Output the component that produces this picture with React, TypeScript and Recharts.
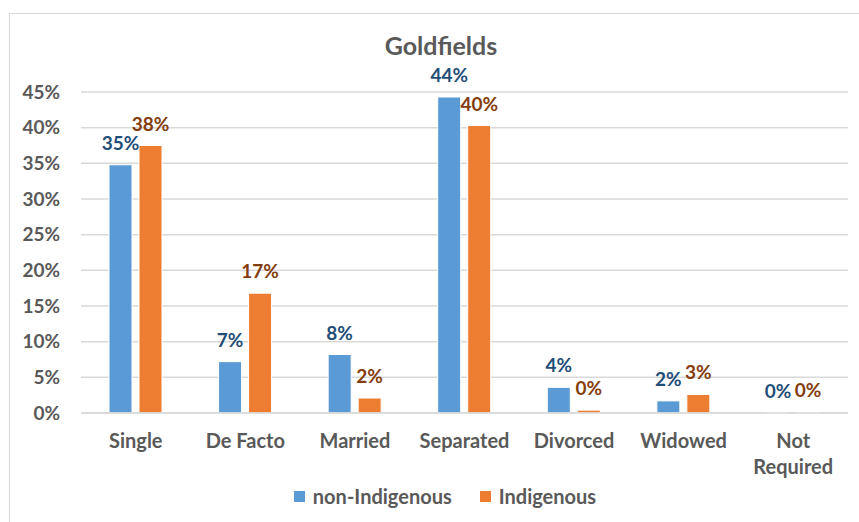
import React from "react";
import { Bar, BarChart, CartesianGrid, LabelList, Legend, XAxis, YAxis } from "recharts";

const categories = ["Single", "De Facto", "Married", "Separated", "Divorced", "Widowed", "Not Required"];
const nonIndigenous = [34.8, 7.2, 8.2, 44.3, 3.6, 1.7, 0.02];
const indigenous = [37.5, 16.8, 2.1, 40.3, 0.4, 2.6, 0.1];
const yTicks = [0, 5, 10, 15, 20, 25, 30, 35, 40, 45];

const series = [
  { key: "nonIndigenous", name: "non-Indigenous", color: "#5b9bd5", labelColor: "#1f4e79" },
  { key: "indigenous", name: "Indigenous", color: "#ed7d31", labelColor: "#843c0c" },
];

const data = categories.map((name, i) => ({
  name,
  nonIndigenous: nonIndigenous[i],
  indigenous: indigenous[i],
}));

const FONT = "Lato, 'Open Sans', sans-serif";
const GREY = "#595959";

function CategoryTick({ x, y, payload }: { x?: number; y?: number; payload?: { value: string } }) {
  const label = payload?.value ?? "";
  const lines = label.length > 10 ? label.split(" ") : [label];
  return (
    <text x={x} y={y} textAnchor="middle" fill={GREY} fontFamily={FONT} fontWeight="bold" fontSize={20}>
      {lines.map((line, i) => (
        <tspan key={line} x={x} dy={i === 0 ? 27 : 26}>
          {line}
        </tspan>
      ))}
    </text>
  );
}

function ChartLegend() {
  return (
    <div
      style={{
        display: "flex",
        justifyContent: "center",
        gap: 28,
        paddingLeft: 42,
        fontFamily: FONT,
        fontWeight: "bold",
        fontSize: 20,
        color: GREY,
      }}
    >
      {series.map((s) => (
        <div key={s.key} style={{ display: "flex", alignItems: "center", gap: 8 }}>
          <span style={{ display: "inline-block", width: 11, height: 11, background: s.color }} />
          <span>{s.name}</span>
        </div>
      ))}
    </div>
  );
}

export default function App() {
  return (
    <div style={{ position: "absolute", left: 0, top: 0, width: 859, height: 522, overflow: "hidden", background: "#fff" }}>
      <div
        style={{
          position: "absolute",
          left: 9,
          top: 13,
          width: 900,
          height: 600,
          borderLeft: "1.5px solid #d9d9d9",
          borderTop: "1.5px solid #d9d9d9",
        }}
      />
      <div
        style={{
          position: "absolute",
          left: 0,
          top: 30,
          width: 882,
          textAlign: "center",
          fontFamily: FONT,
          fontWeight: "bold",
          fontSize: 25,
          color: GREY,
        }}
      >
        Goldfields
      </div>
      <div style={{ position: "absolute", left: 0, top: 0 }}>
        <BarChart
          width={859}
          height={522}
          data={data}
          margin={{ top: 92, right: 11, left: 0, bottom: 14 }}
          barGap={7}
          barSize={23}
        >
          <CartesianGrid vertical={false} stroke="#d9d9d9" strokeWidth={1.5} />
          <XAxis
            dataKey="name"
            axisLine={{ stroke: "#d9d9d9", strokeWidth: 1.5 }}
            tickLine={false}
            height={71}
            interval={0}
            tick={<CategoryTick />}
          />
          <YAxis
            domain={[0, 45]}
            ticks={yTicks}
            width={81}
            axisLine={false}
            tickLine={false}
            tickSize={0}
            tickMargin={21}
            tickFormatter={(v) => `${v}%`}
            tick={{ fill: GREY, fontFamily: FONT, fontWeight: "bold", fontSize: 19 }}
          />
          <Legend verticalAlign="bottom" height={24} content={() => <ChartLegend />} />
          {series.map((s) => (
            <Bar key={s.key} dataKey={s.key} name={s.name} fill={s.color} stroke="#fff" strokeWidth={1} isAnimationActive={false}>
              <LabelList
                dataKey={s.key}
                position="top"
                offset={15}
                formatter={(v) => `${Math.round(Number(v))}%`}
                fill={s.labelColor}
                fontFamily={FONT}
                fontWeight="bold"
                fontSize={19}
              />
            </Bar>
          ))}
        </BarChart>
      </div>
    </div>
  );
}
